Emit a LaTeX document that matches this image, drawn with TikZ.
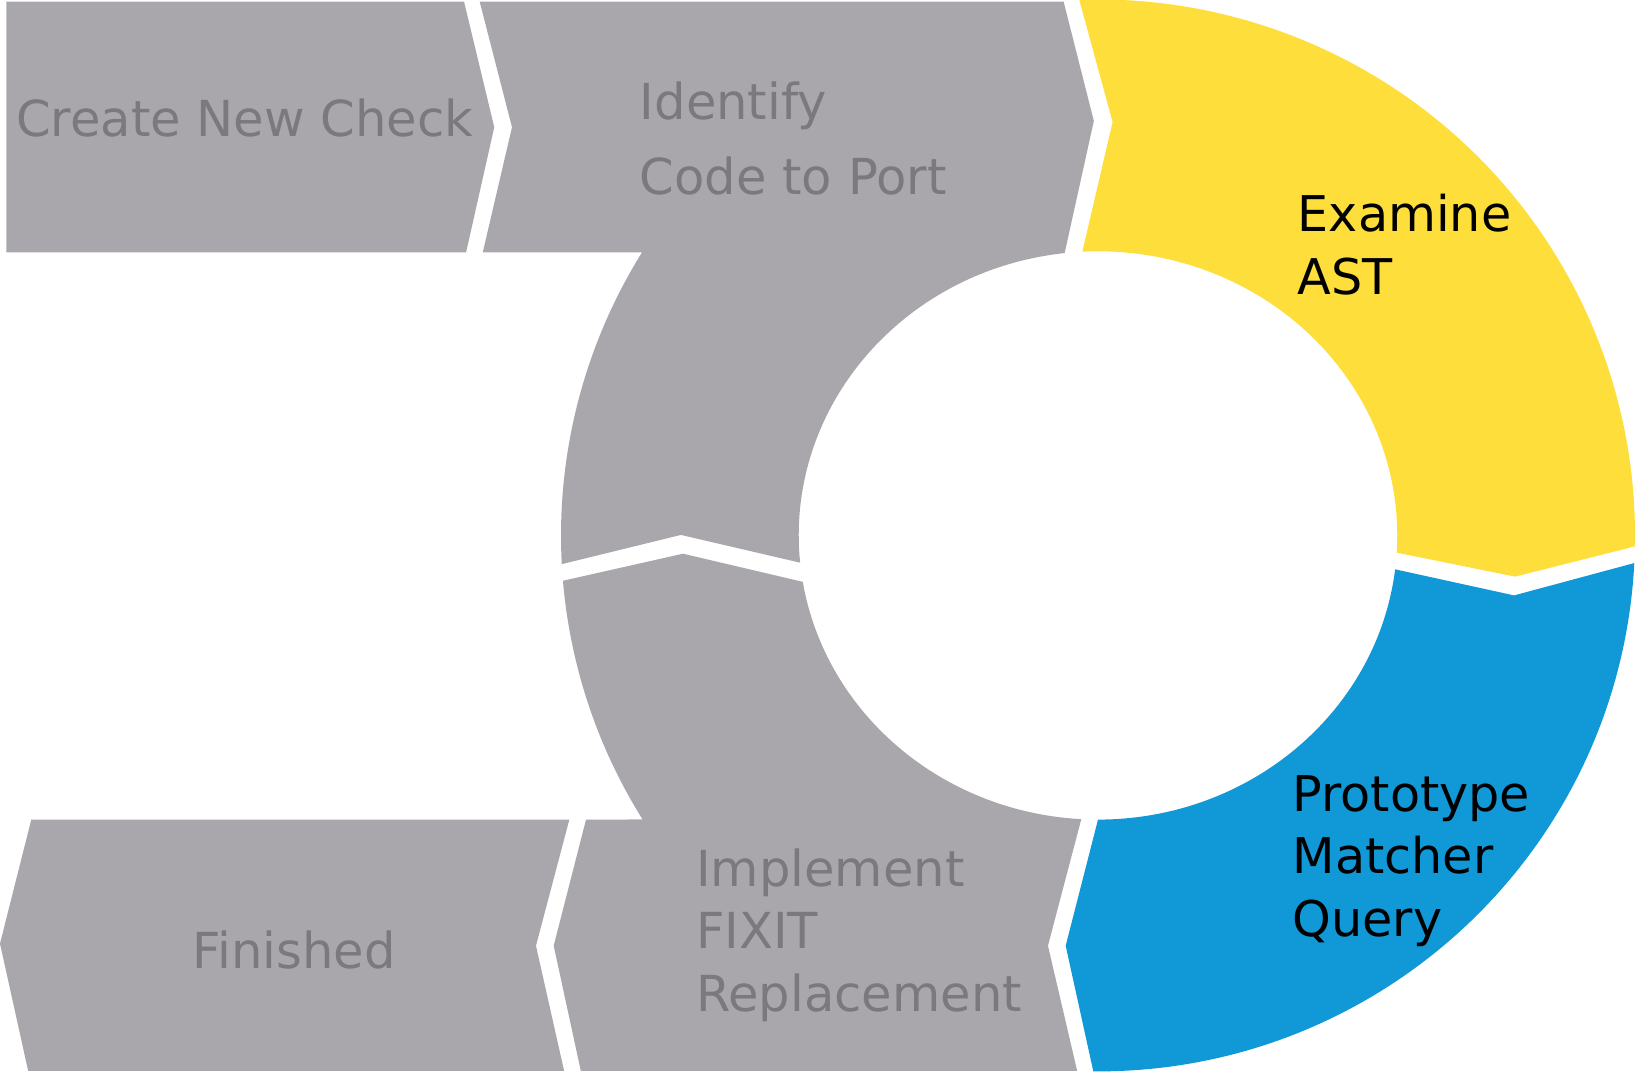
\documentclass[tikz,border=0pt]{standalone}
\usepackage{fontspec}
\setmainfont{DejaVu Sans}
\definecolor{stagegray}{RGB}{169,167,171}
\definecolor{labelgray}{RGB}{123,121,126}
\definecolor{astyellow}{RGB}{254,222,58}
\definecolor{matcherblue}{RGB}{16,152,215}

\begin{document}
\begin{tikzpicture}[
        x=0.010427cm, y=0.010427cm,
        greystage/.style={draw=none, fill=stagegray},
        yellowstage/.style={draw=none, fill=astyellow},
        bluestage/.style={draw=none, fill=matcherblue},
        greylabel/.style={anchor=base west, inner sep=0pt, align=left, text=labelgray, font=\fontsize{14.1}{17.8}\selectfont},
        blacklabel/.style={anchor=base west, inner sep=0pt, align=left, text=black, font=\fontsize{14}{17.8}\selectfont}
    ]
        \useasboundingbox (0,0) rectangle (1568,1028);
        \coordinate (hub) at (1053,514.5);

        % top row
        \fill[greystage] (6,1026.5) -- (445,1026.5) -- (474,906) -- (447,786) -- (6,786) -- cycle;
        \fill[greystage] (460,1026.5) -- (1020,1026.5) -- (1049,912)
            -- ([shift={(hub)}]96.4:287 and 272.5) arc[start angle=96.4, end angle=185.5, x radius=287, y radius=272.5]
            -- (653,515)
            -- ([shift={(hub)}]183.07:515 and 514) arc[start angle=183.07, end angle=148.12, x radius=515, y radius=514]
            -- (463,786) -- (491,906) -- cycle;

        % ring
        \fill[yellowstage] ([shift={(hub)}]92:515 and 514) -- (1067,911)
            -- ([shift={(hub)}]93:287 and 272.5) arc[start angle=93, end angle=-3.47, x radius=287, y radius=272.5]
            -- (1453,475)
            -- ([shift={(hub)}]-1.17:515 and 514) arc[start angle=-1.17, end angle=92, x radius=515, y radius=514] -- cycle;
        \fill[bluestage] ([shift={(hub)}]-6.85:287 and 272.5) -- (1452,457)
            -- ([shift={(hub)}]-2.955:515 and 514) arc[start angle=-2.955, end angle=-90.5, x radius=515, y radius=514]
            -- (1022,121)
            -- ([shift={(hub)}]-90:287 and 272.5) arc[start angle=-90, end angle=-6.85, x radius=287, y radius=272.5] -- cycle;

        % bottom row
        \fill[greystage] (562,242)
            -- ([shift={(hub)}]212:515 and 514) arc[start angle=212, end angle=184.85, x radius=515, y radius=514]
            -- (655,497)
            -- ([shift={(hub)}]189.4:287 and 272.5) arc[start angle=189.4, end angle=266.8, x radius=287, y radius=272.5]
            -- (1005,121) -- (1033,1) -- (557,1) -- (531,121) -- cycle;
        \fill[greystage] (30,242) -- (546,242) -- (514,121) -- (541,1) -- (27,1) -- (0,123) -- cycle;

        % labels (base = last line)
        \node[greylabel] (create) at (15,897) {Create New Check};
        \node[greylabel, font=\fontsize{14.1}{21.5}\selectfont] (identify) at (613,841) {Identify\\Code to Port};
        \node[blacklabel] (examine) at (1244,746) {Examine\\AST};
        \node[blacklabel] (prototype) at (1239,130) {Prototype\\Matcher\\Query};
        \node[greylabel] (implement) at (667,58) {Implement\\FIXIT\\Replacement};
        \node[greylabel] (finished) at (184,99) {Finished};
    \end{tikzpicture}
\end{document}
